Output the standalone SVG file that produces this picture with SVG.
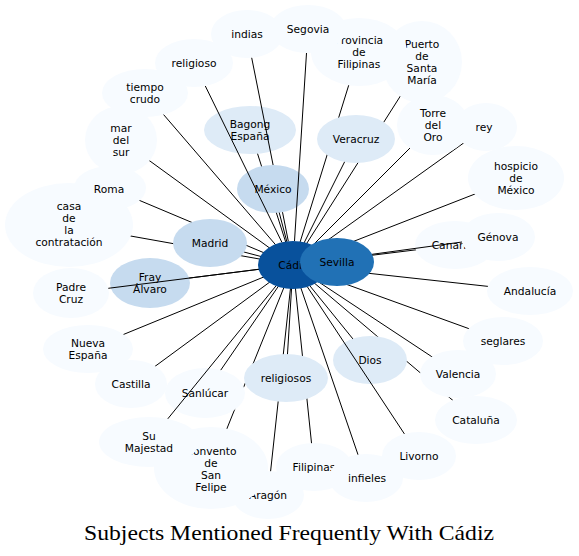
<svg xmlns="http://www.w3.org/2000/svg" width="579" height="556" viewBox="0 0 579 556">
<style>
.n0{fill:#f7fbff}.n1{fill:#deebf7}.n2{fill:#c6dbef}.n3{fill:#2171b5}.n4{fill:#08519c}
text{font-family:"DejaVu Sans","Liberation Sans",sans-serif;font-size:10.67px;text-anchor:middle;fill:#000}
.e line,.e path{stroke:#000;stroke-width:1;fill:none}
.title{font-family:"Liberation Serif","DejaVu Serif",serif;font-size:21px}
</style>
<rect width="579" height="556" fill="#fff"/>
<g id="edges" class="e">
<line x1="293" y1="265" x2="69" y2="225"/>
<line x1="293" y1="265" x2="110" y2="188"/>
<line x1="293" y1="265" x2="210" y2="243"/>
<line x1="293" y1="265" x2="145" y2="93"/>
<line x1="293" y1="265" x2="121" y2="140"/>
<line x1="293" y1="265" x2="88" y2="349"/>
<line x1="293" y1="265" x2="131" y2="384"/>
<line x1="293" y1="265" x2="150" y2="283"/>
<line x1="293" y1="265" x2="268" y2="495"/>
<line x1="293" y1="265" x2="211" y2="468"/>
<line x1="293" y1="265" x2="205" y2="393"/>
<line x1="293" y1="265" x2="314" y2="467"/>
<line x1="293" y1="265" x2="366" y2="478"/>
<line x1="293" y1="265" x2="286" y2="378"/>
<line x1="293" y1="265" x2="476" y2="420"/>
<line x1="293" y1="265" x2="370" y2="360"/>
<line x1="293" y1="265" x2="458" y2="374"/>
<line x1="293" y1="265" x2="503" y2="341"/>
<line x1="293" y1="265" x2="530" y2="291"/>
<line x1="293" y1="265" x2="455" y2="245"/>
<line x1="293" y1="265" x2="516" y2="178"/>
<line x1="293" y1="265" x2="486" y2="127"/>
<line x1="293" y1="265" x2="433" y2="125"/>
<line x1="293" y1="265" x2="422" y2="62"/>
<line x1="293" y1="265" x2="359" y2="52"/>
<line x1="293" y1="265" x2="356" y2="139"/>
<line x1="293" y1="265" x2="250" y2="130"/>
<line x1="293" y1="265" x2="273" y2="189"/>
</g>
<g id="n-casa"><ellipse class="n0" cx="69" cy="225" rx="64" ry="42"/><text x="69" y="210">casa</text><text x="69" y="222">de</text><text x="69" y="234">la</text><text x="69" y="246">contratación</text></g>
<g id="n-roma"><ellipse class="n0" cx="110" cy="188" rx="36" ry="22"/><text x="109" y="192.5">Roma</text></g>
<g id="n-madrid"><ellipse class="n2" cx="210" cy="243" rx="37" ry="24"/><text x="210" y="246.5">Madrid</text></g>
<g id="n-tiempo"><ellipse class="n0" cx="145" cy="93" rx="43" ry="24"/><text x="145" y="90.5">tiempo</text><text x="145" y="102.5">crudo</text></g>
<g id="n-mar"><ellipse class="n0" cx="121" cy="140" rx="36" ry="34"/><text x="121" y="131.5">mar</text><text x="121" y="143.5">del</text><text x="121" y="155.5">sur</text></g>
<g id="n-nueva"><ellipse class="n0" cx="88" cy="349" rx="45" ry="24"/><text x="88" y="346.5">Nueva</text><text x="88" y="358.5">España</text></g>
<g id="n-castilla"><ellipse class="n0" cx="131" cy="384" rx="36" ry="24"/><text x="131" y="387.5">Castilla</text></g>
<g id="n-fray"><ellipse class="n2" cx="150" cy="283" rx="40" ry="25"/><text x="150" y="280.5">Fray</text><text x="150" y="292.5">Álvaro</text></g>
<g id="n-padre"><ellipse class="n0" cx="71" cy="293" rx="38" ry="25"/><text x="71" y="290.5">Padre</text><text x="71" y="302.5">Cruz</text></g>
<g id="n-aragon"><ellipse class="n0" cx="268" cy="495" rx="36" ry="24"/><text x="268" y="498.5">Aragón</text></g>
<g id="n-convento"><ellipse class="n0" cx="211" cy="468" rx="57" ry="41"/><text x="211" y="454.5">Convento</text><text x="211" y="466.5">de</text><text x="211" y="478.5">San</text><text x="211" y="490.5">Felipe</text></g>
<g id="n-sanlucar"><ellipse class="n0" cx="205" cy="393" rx="40" ry="25"/><text x="205" y="396.5">Sanlúcar</text></g>
<g id="n-sumajestad"><ellipse class="n0" cx="149" cy="442" rx="50" ry="25"/><text x="149" y="439.5">Su</text><text x="149" y="451.5">Majestad</text></g>
<g id="n-filipinas"><ellipse class="n0" cx="314" cy="467" rx="38" ry="24"/><text x="314" y="470.5">Filipinas</text></g>
<g id="n-infieles"><ellipse class="n0" cx="366" cy="478" rx="37" ry="24"/><text x="367" y="481.5">infieles</text></g>
<g id="n-religiosos"><ellipse class="n1" cx="286" cy="378" rx="42" ry="24"/><text x="286" y="381.5">religiosos</text></g>
<g id="n-cataluna"><ellipse class="n0" cx="476" cy="420" rx="41" ry="24"/><text x="476" y="423.5">Cataluña</text></g>
<g id="n-dios"><ellipse class="n1" cx="370" cy="360" rx="37" ry="24"/><text x="370" y="363.5">Dios</text></g>
<g id="n-valencia"><ellipse class="n0" cx="458" cy="374" rx="38" ry="24"/><text x="458" y="377.5">Valencia</text></g>
<g id="n-livorno"><ellipse class="n0" cx="419" cy="456" rx="37" ry="24"/><text x="419" y="459.5">Livorno</text></g>
<g id="n-seglares"><ellipse class="n0" cx="503" cy="341" rx="40" ry="24"/><text x="503" y="344.5">seglares</text></g>
<g id="n-andalucia"><ellipse class="n0" cx="530" cy="291" rx="43" ry="24"/><text x="530" y="294.5">Andalucía</text></g>
<g id="n-canarias"><ellipse class="n0" cx="455" cy="245" rx="40" ry="24"/><text x="455" y="248.5">Canarias</text></g>
<g id="n-genova"><ellipse class="n0" cx="498" cy="237" rx="37" ry="24"/><text x="498" y="240.5">Génova</text></g>
<g id="n-hospicio"><ellipse class="n0" cx="516" cy="178" rx="48" ry="32"/><text x="516" y="169.5">hospicio</text><text x="516" y="181.5">de</text><text x="516" y="193.5">México</text></g>
<g id="n-rey"><ellipse class="n0" cx="486" cy="127" rx="31" ry="24"/><text x="484" y="130.5">rey</text></g>
<g id="n-torre"><ellipse class="n0" cx="433" cy="125" rx="36" ry="30"/><text x="433" y="116.5">Torre</text><text x="433" y="128.5">del</text><text x="433" y="140.5">Oro</text></g>
<g id="n-puerto"><ellipse class="n0" cx="422" cy="62" rx="40" ry="41"/><text x="422" y="47.5">Puerto</text><text x="422" y="59.5">de</text><text x="422" y="71.5">Santa</text><text x="422" y="83.5">María</text></g>
<g id="n-provincia"><ellipse class="n0" cx="359" cy="52" rx="48" ry="34"/><text x="359" y="43.5">Provincia</text><text x="359" y="55.5">de</text><text x="359" y="67.5">Filipinas</text></g>
<g id="n-veracruz"><ellipse class="n1" cx="356" cy="139" rx="39" ry="24"/><text x="356" y="142.5">Veracruz</text></g>
<g id="n-bagong"><ellipse class="n1" cx="250" cy="130" rx="46" ry="24"/><text x="250" y="127.5">Bagong</text><text x="250" y="139.5">España</text></g>
<g id="n-mexico"><ellipse class="n2" cx="273" cy="189" rx="36" ry="24"/><text x="273" y="192.5">México</text></g>
<g id="n-religioso"><ellipse class="n0" cx="194" cy="63" rx="39" ry="24"/><text x="194" y="66.5">religioso</text></g>
<g id="n-indias"><ellipse class="n0" cx="247" cy="34" rx="36" ry="24"/><text x="247" y="37.5">indias</text></g>
<g id="n-segovia"><ellipse class="n0" cx="308" cy="29" rx="38" ry="24"/><text x="308" y="32.5">Segovia</text></g>
<g id="n-cadiz"><ellipse class="n4" cx="293" cy="265" rx="35" ry="24"/><text x="293" y="268.5">Cádiz</text></g>
<g id="n-sevilla"><ellipse class="n3" cx="337" cy="262" rx="37" ry="24"/><text x="337" y="265.5">Sevilla</text></g>
<g id="edges-over" class="e">
<line x1="258.6" y1="269.3" x2="108.3" y2="288.3"/>
<line x1="372.1" y1="254.3" x2="462" y2="242"/>
<line x1="275.9" y1="286" x2="167.8" y2="418.8"/>
<line x1="307.4" y1="286.9" x2="404.4" y2="433.9"/>
<line x1="281.9" y1="242.3" x2="205.3" y2="86"/>
<line x1="294.5" y1="241" x2="306.5" y2="53"/>
<path d="M251.7,57.8 L273.1,165 M282.5,212.2 L288.3,241.2"/>
</g>
<text class="title" x="289" y="540" textLength="410" lengthAdjust="spacingAndGlyphs">Subjects Mentioned Frequently With Cádiz</text>
</svg>
